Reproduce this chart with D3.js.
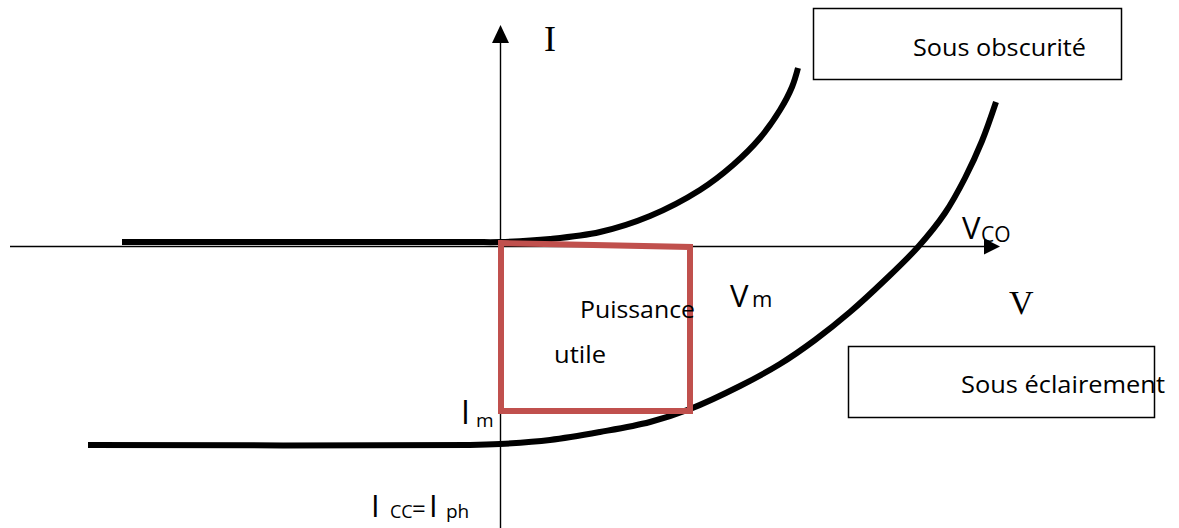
<!DOCTYPE html>
<html>
<head>
<meta charset="utf-8">
<script src="https://cdn.jsdelivr.net/npm/d3@7"></script>
<style>
  html, body { margin: 0; padding: 0; background: #fff; }
  svg { display: block; }
  .sans { font-family: "Open Sans", "Noto Sans", sans-serif; fill: #000; }
  .serif { font-family: "Liberation Serif", "DejaVu Serif", serif; fill: #000; }
</style>
</head>
<body>
<svg id="chart" width="1179" height="528"></svg>
<script>
// Dark characteristic (sous obscurité): voltage / current
const darkV = [-3.78, -0.30, 0, 0.5, 1.0, 1.5, 2.0, 2.33, 2.6, 2.8, 2.92, 2.98];
const darkI = [0.04, 0.04, 0.04, 0.07, 0.14, 0.30, 0.56, 0.81, 1.08, 1.36, 1.59, 1.78];

// Illuminated characteristic (sous éclairement)
const lightV = [-4.12, -0.30, 0, 0.5, 1.0, 1.5, 1.9, 2.4, 2.8, 3.15, 3.5, 3.85, 4.18, 4.45, 4.65, 4.82, 4.96];
const lightI = [-1.99, -1.99, -1.98, -1.94, -1.86, -1.76, -1.63, -1.40, -1.18, -0.94, -0.66, -0.34, -0.01, 0.33, 0.68, 1.05, 1.44];

// "Puissance utile" rectangle corners (Vm, Im)
const powerV = [0.01, 1.9, 1.9, 0.01];
const powerI = [0.03, -0.01, -1.65, -1.65];

const svg = d3.select('#chart');

// one unit = 100px, origin of the axes at (500, 246)
const x = d3.scaleLinear().domain([-4.9, 5.0]).range([10, 1000]);
const y = d3.scaleLinear().domain([-2.82, 2.21]).range([528, 25]);

const x0 = x(0) + 0.5;
const y0 = y(0) + 0.5;

// axes
svg.append('line')
  .attr('x1', x.range()[0]).attr('x2', x.range()[1] - 12)
  .attr('y1', y0).attr('y2', y0)
  .attr('stroke', '#000').attr('stroke-width', 1.4);

svg.append('line')
  .attr('x1', x0).attr('x2', x0)
  .attr('y1', y.range()[0]).attr('y2', y.range()[1] + 14)
  .attr('stroke', '#000').attr('stroke-width', 1.4);

// arrow heads
svg.append('path')
  .attr('d', `M${x0},${y.range()[1]} L${x0 - 8.5},${y.range()[1] + 18} L${x0 + 8.5},${y.range()[1] + 18} Z`)
  .attr('fill', '#000');

svg.append('path')
  .attr('d', `M${x.range()[1]},${y0} L${x.range()[1] - 16},${y0 - 8} L${x.range()[1] - 16},${y0 + 8} Z`)
  .attr('fill', '#000');

const line = d3.line()
  .x(d => x(d[0]))
  .y(d => y(d[1]))
  .curve(d3.curveCatmullRom.alpha(0.5));

svg.append('path')
  .attr('class', 'curve dark')
  .attr('d', line(d3.zip(darkV, darkI)))
  .attr('fill', 'none')
  .attr('stroke', '#000')
  .attr('stroke-width', 6);

svg.append('path')
  .attr('class', 'curve light')
  .attr('d', line(d3.zip(lightV, lightI)))
  .attr('fill', 'none')
  .attr('stroke', '#000')
  .attr('stroke-width', 6);

// useful power rectangle
svg.append('path')
  .attr('d', d3.line().x(d => x(d[0])).y(d => y(d[1]))(d3.zip(powerV, powerI)) + 'Z')
  .attr('fill', 'none')
  .attr('stroke', '#c0504d')
  .attr('stroke-width', 6)
  .attr('stroke-linejoin', 'miter');

// legend boxes
const boxes = [
  { x: 813, y: 8, w: 308, h: 71, label: 'Sous obscurité', tx: 913, ty: 56, tl: 173 },
  { x: 848, y: 346, w: 306, h: 71, label: 'Sous éclairement', tx: 961, ty: 393, tl: 204 }
];

boxes.forEach(b => {
  svg.append('rect')
    .attr('x', b.x + 0.5).attr('y', b.y + 0.5)
    .attr('width', b.w).attr('height', b.h)
    .attr('fill', '#fff')
    .attr('stroke', '#000')
    .attr('stroke-width', 1.5);
  svg.append('text')
    .attr('class', 'sans')
    .attr('x', b.tx).attr('y', b.ty)
    .attr('textLength', b.tl)
    .attr('lengthAdjust', 'spacingAndGlyphs')
    .style('font-size', '24px')
    .text(b.label);
});

// axis names
svg.append('text').attr('class', 'serif')
  .attr('x', 544).attr('y', 51)
  .style('font-size', '36px')
  .text('I');

svg.append('text').attr('class', 'serif')
  .attr('x', 1009).attr('y', 314)
  .style('font-size', '34px')
  .text('V');

// labels inside the plot
svg.append('text').attr('class', 'sans')
  .attr('x', 580).attr('y', 318)
  .attr('textLength', 115).attr('lengthAdjust', 'spacingAndGlyphs')
  .style('font-size', '24px')
  .text('Puissance');

svg.append('text').attr('class', 'sans')
  .attr('x', 554).attr('y', 363)
  .attr('textLength', 52).attr('lengthAdjust', 'spacingAndGlyphs')
  .style('font-size', '24px')
  .text('utile');

const vco = svg.append('text').attr('class', 'sans').attr('x', 962).attr('y', 239);
vco.append('tspan').style('font-size', '31px').text('V');
vco.append('tspan').attr('x', 981).attr('y', 242).style('font-size', '21px').text('CO');

const vm = svg.append('text').attr('class', 'sans').attr('x', 730).attr('y', 307);
vm.append('tspan').style('font-size', '31px').text('V');
vm.append('tspan').attr('x', 752).attr('y', 307).style('font-size', '22px').text('m');

const im = svg.append('text').attr('class', 'sans').attr('x', 461).attr('y', 424);
im.append('tspan').style('font-size', '32px').text('I');
im.append('tspan').attr('x', 476).attr('y', 427).style('font-size', '19px').text('m');

const icc = svg.append('text').attr('class', 'sans').attr('x', 371).attr('y', 517);
icc.append('tspan').style('font-size', '31px').text('I');
icc.append('tspan').attr('x', 390).attr('y', 518).style('font-size', '18px').text('CC');
icc.append('tspan').attr('x', 412).attr('y', 517).style('font-size', '24px').text('=');
icc.append('tspan').attr('x', 429).attr('y', 517).style('font-size', '31px').text('I');
icc.append('tspan').attr('x', 446).attr('y', 518).style('font-size', '19px').text('ph');
</script>
</body>
</html>
